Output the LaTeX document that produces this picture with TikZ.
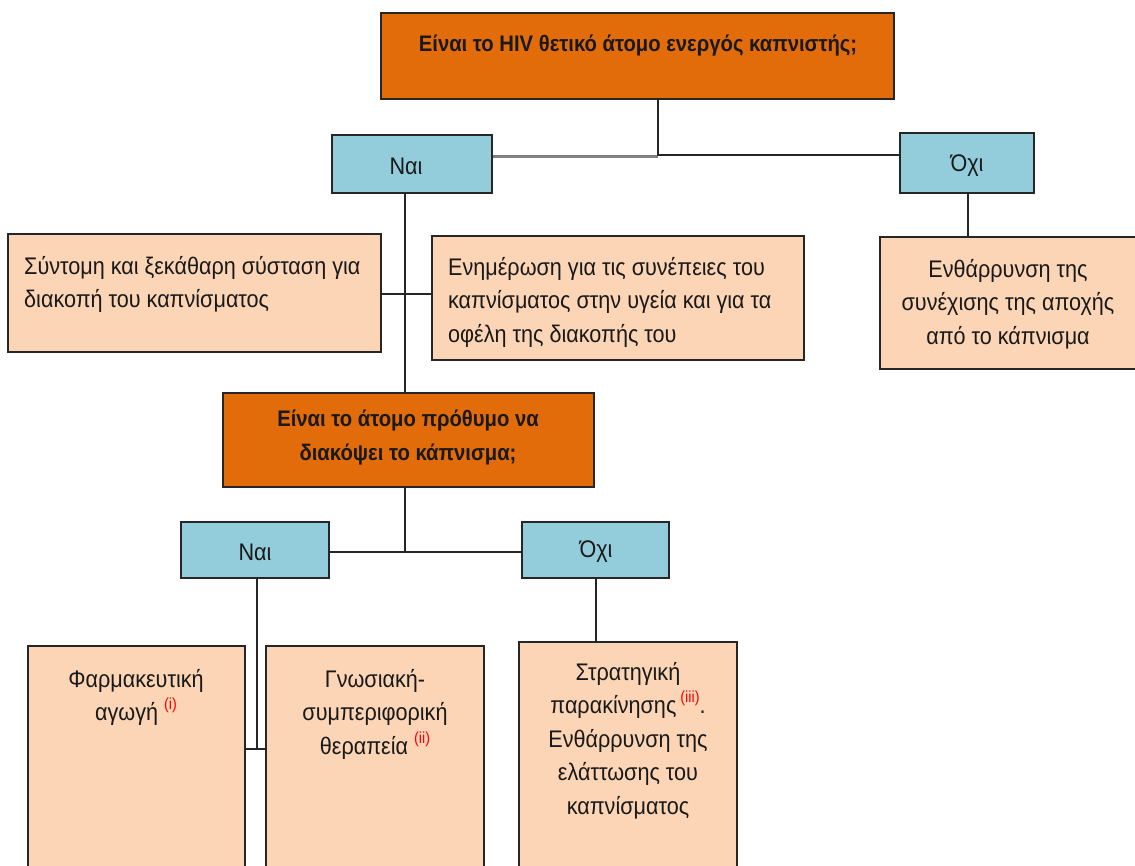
\documentclass[tikz,border=0pt]{standalone}
\usepackage{fontspec}
\setmainfont{Liberation Sans}[FakeStretch=0.9]
\usetikzlibrary{positioning}
\definecolor{qorange}{HTML}{E26B0A}
\definecolor{ansblue}{HTML}{93CDDC}
\definecolor{actpeach}{HTML}{FBD5B5}
\definecolor{edge}{HTML}{262626}
\newcommand{\refmark}[1]{{\color{red}\raisebox{0.45em}{\fontsize{16}{16}\selectfont(#1)}}}
\tikzset{
  basebox/.style={draw=edge, line width=1.4pt, rectangle, inner sep=0pt},
  question/.style={basebox, fill=qorange},
  answer/.style={basebox, fill=ansblue},
  action/.style={basebox, fill=actpeach},
  txt/.style={inner sep=0pt, font=\fontsize{24}{33.5}\selectfont, text=black!90},
  qtxt/.style={txt, font=\fontsize{22.5}{34}\selectfont\bfseries},
  link/.style={draw=edge, line width=1.3pt},
  greylink/.style={draw=black!50, line width=3pt},
}
\begin{document}
\begin{tikzpicture}[x=1pt, y=-1pt]
\clip (0,0) rectangle (1135,865);
\fill[white] (0,0) rectangle (1135,865);

% boxes
\node[question, minimum width=513pt, minimum height=86pt] (q1) at (637.5,56) {};
\node[answer, minimum width=160pt, minimum height=58pt] (y1) at (412,164) {};
\node[answer, minimum width=134pt, minimum height=60pt] (n1) at (967,163) {};
\node[action, minimum width=373pt, minimum height=118pt] (a1) at (194.5,293) {};
\node[action, minimum width=372pt, minimum height=124pt] (a2) at (618,298) {};
\node[action, minimum width=260pt, minimum height=132pt] (a3) at (1010,303) {};
\node[question, minimum width=371pt, minimum height=94pt] (q2) at (408.5,440) {};
\node[answer, minimum width=148pt, minimum height=56pt] (y2) at (255,550) {};
\node[answer, minimum width=147pt, minimum height=56pt] (n2) at (595.5,550) {};
\node[action, minimum width=217pt, minimum height=234pt] (b1) at (136.5,763) {};
\node[action, minimum width=218pt, minimum height=234pt] (b2) at (375,763) {};
\node[action, minimum width=218pt, minimum height=238pt] (b3) at (628,761) {};

% junction points
\coordinate (j1) at (658,155);
\coordinate (j1g) at (658,156);
\coordinate (j2) at (405,294);
\coordinate (j3) at (405,552);
\coordinate (j4) at (257,749);

% connectors
\draw[greylink] (y1.east |- j1g) -- (j1g);
\draw[link] (q1.south -| j1) -- (j1) -- (n1.west |- j1);
\draw[link] (y1.south -| j2) -- (q2.north -| j2);
\draw[link] (a1.east |- j2) -- (a2.west |- j2);
\draw[link] (n1.south -| 968,0) -- (a3.north -| 968,0);
\draw[link] (q2.south -| j3) -- (j3);
\draw[link] (y2.east |- j3) -- (n2.west |- j3);
\draw[link] (y2.south -| j4) -- (j4);
\draw[link] (b1.east |- j4) -- (b2.west |- j4);
\draw[link] (n2.south -| 596,0) -- (b3.north -| 596,0);

% texts
\node[qtxt] (tq1) at (638,46) {Είναι το HIV θετικό άτομο ενεργός καπνιστής;};
\node[txt] (ty1) at (406,166) {Ναι};
\node[txt] (tn1) at (967,166) {Όχι};
\node[txt, anchor=north west, align=left] (ta1) at (24,256)
  {Σύντομη και ξεκάθαρη σύσταση για\\διακοπή του καπνίσματος};
\node[txt, anchor=north west, align=left] (ta2) at (448,257)
  {Ενημέρωση για τις συνέπειες του\\καπνίσματος στην υγεία και για τα\\οφέλη της διακοπής του};
\node[txt, anchor=north, align=center] (ta3) at (1008,259)
  {Ενθάρρυνση της\\συνέχισης της αποχής\\από το κάπνισμα};
\node[qtxt, anchor=north, align=center] (tq2) at (408,410)
  {Είναι το άτομο πρόθυμο να\\διακόψει το κάπνισμα;};
\node[txt] (ty2) at (255,552) {Ναι};
\node[txt] (tn2) at (596,552) {Όχι};
\node[txt, anchor=north, align=center] (tb1) at (136,669)
  {Φαρμακευτική\\αγωγή \refmark{i}};
\node[txt, anchor=north, align=center] (tb2) at (375,669)
  {Γνωσιακή-\\συμπεριφορική\\θεραπεία \refmark{ii}};
\node[txt, anchor=north, align=center] (tb3) at (628,662)
  {Στρατηγική\\παρακίνησης\,\refmark{iii}.\\Ενθάρρυνση της\\ελάττωσης του\\καπνίσματος};
\end{tikzpicture}
\end{document}
